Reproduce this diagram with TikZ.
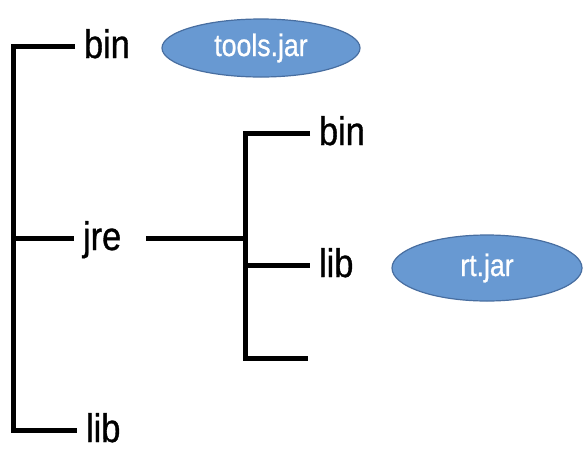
\documentclass[tikz,border=0pt]{standalone}
\usepackage{fontspec}
\setmainfont[FakeStretch=0.86,FakeBold=0.8]{Liberation Sans}
\usetikzlibrary{shapes.geometric}
\definecolor{jarfill}{RGB}{104,153,210}
\definecolor{jardraw}{RGB}{72,110,160}
\tikzset{
  dirlabel/.style={anchor=west,inner sep=0pt,outer sep=9pt,text height=24pt,text depth=0pt,font=\fontsize{40}{40}\selectfont},
  jarnode/.style={ellipse,draw=jardraw,line width=1.2pt,fill=jarfill,text=white,inner sep=0pt,font=\fontsize{31}{31}\selectfont},
  treeline/.style={line width=5pt,line join=miter}
}
\begin{document}
\begin{tikzpicture}[x=1pt,y=1pt,yscale=-1,xscale=1]
\useasboundingbox[fill=white] (0,0) rectangle (584,448);

% Corners
\coordinate (ltop) at (13,46);
\coordinate (ljre) at (13,238);
\coordinate (lbot) at (13,430);
\coordinate (rtop) at (245,133);
\coordinate (rmid) at (245,238);
\coordinate (rlib) at (245,265);
\coordinate (rbot) at (245,358);
\coordinate (rend) at (308,358);

% Text Node
\node [dirlabel] (bin1) at (75,46) {bin};
% Text Node
\node [dirlabel] (jre) at (74,238) {jre};
% Text Node
\node [dirlabel] (lib1) at (77,430) {lib};
% Text Node
\node [dirlabel] (bin2) at (310,133) {bin};
% Text Node
\node [dirlabel] (lib2) at (310,265) {lib};

%Shape: Ellipse
\node [jarnode,minimum width=198pt,minimum height=58pt] (tools) at (261,48) {tools.jar};
%Shape: Ellipse
\node [jarnode,minimum width=190pt,minimum height=66pt] (rt) at (487,268) {rt.jar};

% Left tree
\draw [treeline] (bin1.west) -- (ltop) -- (lbot) -- (lib1.west);
\draw [treeline] (ljre) -- (jre.west);
% Right tree
\draw [treeline,shorten <=16pt] (jre.east) -- (rmid);
\draw [treeline] (bin2.west) -- (rtop) -- (rbot) -- (rend);
\draw [treeline] (rlib) -- (lib2.west);

\end{tikzpicture}
\end{document}
